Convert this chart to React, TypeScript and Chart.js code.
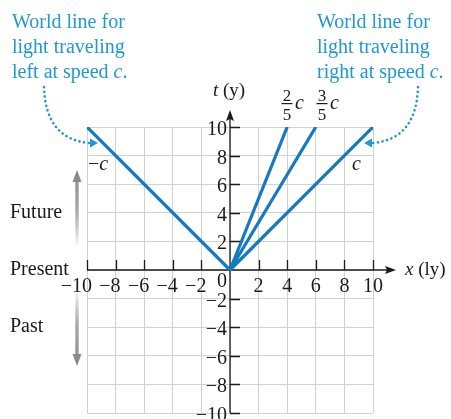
import { useEffect, useRef } from "react";
import { Chart, registerables } from "chart.js";

Chart.register(...registerables);

// Axis range and tick values (x in light-years, t in years)
const axisMin = -10;
const axisMax = 10;
const xTickValues = [-10, -8, -6, -4, -2, 2, 4, 6, 8, 10];
const tTickValues = [10, 8, 6, 4, 2, -2, -4, -6, -8, -10];

// World lines from the origin
const lightLeft = [
  { x: 0, y: 0 },
  { x: -10, y: 10 },
];
const lightRight = [
  { x: 0, y: 0 },
  { x: 10, y: 10 },
];
const twoFifthsC = [
  { x: 0, y: 0 },
  { x: 4, y: 10 },
];
const threeFifthsC = [
  { x: 0, y: 0 },
  { x: 6, y: 10 },
];

const LINE_BLUE = "#1479bf";
const NOTE_BLUE = "#1f98d4";
const SERIF = "'Liberation Serif', 'DejaVu Serif', serif";

function fmt(v: number) {
  return v < 0 ? "\u2212" + Math.abs(v) : String(v);
}

type Seg = { text: string; italic?: boolean };

function drawSegs(ctx: CanvasRenderingContext2D, segs: Seg[], x: number, y: number, size: number) {
  let cx = x;
  for (const s of segs) {
    ctx.font = `${s.italic ? "italic " : ""}${size}px ${SERIF}`;
    ctx.fillText(s.text, cx, y);
    cx += ctx.measureText(s.text).width;
  }
}

function dottedCurve(
  ctx: CanvasRenderingContext2D,
  p: number[],
  tip: [number, number],
  dir: number
) {
  ctx.save();
  ctx.strokeStyle = NOTE_BLUE;
  ctx.fillStyle = NOTE_BLUE;
  ctx.lineWidth = 2.6;
  ctx.lineCap = "round";
  ctx.setLineDash([0.1, 4.6]);
  ctx.beginPath();
  ctx.moveTo(p[0], p[1]);
  ctx.bezierCurveTo(p[2], p[3], p[4], p[5], p[6], p[7]);
  ctx.stroke();
  ctx.setLineDash([]);
  ctx.beginPath();
  ctx.moveTo(tip[0], tip[1]);
  ctx.lineTo(tip[0] - dir * 8, tip[1] - 4.5);
  ctx.lineTo(tip[0] - dir * 8, tip[1] + 4.5);
  ctx.closePath();
  ctx.fill();
  ctx.restore();
}

function grayArrow(ctx: CanvasRenderingContext2D, x: number, tail: number, tip: number) {
  const dir = tip < tail ? -1 : 1;
  const headLen = 12;
  const g = ctx.createLinearGradient(0, tail, 0, tip);
  g.addColorStop(0, "rgba(140,140,140,0)");
  g.addColorStop(0.45, "rgba(150,150,150,0.8)");
  g.addColorStop(1, "#8a8a8a");
  ctx.save();
  ctx.fillStyle = g;
  ctx.fillRect(x - 1.7, Math.min(tail, tip - dir * headLen), 3.4, Math.abs(tip - dir * headLen - tail));
  ctx.fillStyle = "#8a8a8a";
  ctx.beginPath();
  ctx.moveTo(x, tip);
  ctx.lineTo(x - 4.5, tip - dir * headLen);
  ctx.lineTo(x + 4.5, tip - dir * headLen);
  ctx.closePath();
  ctx.fill();
  ctx.restore();
}

const axesPlugin = {
  id: "spacetimeAxes",
  beforeDatasetsDraw(chart: any) {
    const ctx: CanvasRenderingContext2D = chart.ctx;
    const xs = chart.scales.x;
    const ys = chart.scales.y;
    const x0 = xs.getPixelForValue(0);
    const y0 = ys.getPixelForValue(0);
    const left = xs.getPixelForValue(axisMin);
    const right = xs.getPixelForValue(axisMax);
    const top = ys.getPixelForValue(axisMax);
    const bottom = ys.getPixelForValue(axisMin);
    ctx.save();
    ctx.strokeStyle = "#1a1a1a";
    ctx.fillStyle = "#1a1a1a";
    ctx.lineWidth = 1.3;
    // x axis with arrow
    ctx.beginPath();
    ctx.moveTo(left, y0);
    ctx.lineTo(right + 16, y0);
    ctx.stroke();
    ctx.beginPath();
    ctx.moveTo(right + 23, y0);
    ctx.lineTo(right + 12, y0 - 4);
    ctx.lineTo(right + 14, y0);
    ctx.lineTo(right + 12, y0 + 4);
    ctx.closePath();
    ctx.fill();
    // t axis with arrow
    ctx.beginPath();
    ctx.moveTo(x0, bottom);
    ctx.lineTo(x0, top - 10);
    ctx.stroke();
    ctx.beginPath();
    ctx.moveTo(x0, top - 17);
    ctx.lineTo(x0 - 4, top - 6);
    ctx.lineTo(x0, top - 8);
    ctx.lineTo(x0 + 4, top - 6);
    ctx.closePath();
    ctx.fill();
    // tick marks
    ctx.beginPath();
    for (const v of xTickValues) {
      const px = Math.round(xs.getPixelForValue(v)) + 0.5;
      ctx.moveTo(px, y0);
      ctx.lineTo(px, y0 - 10);
    }
    for (const v of tTickValues) {
      const py = Math.round(ys.getPixelForValue(v)) + 0.5;
      ctx.moveTo(x0, py);
      ctx.lineTo(x0 + 10, py);
    }
    ctx.stroke();
    ctx.restore();
  },
  afterDraw(chart: any) {
    const ctx: CanvasRenderingContext2D = chart.ctx;
    const xs = chart.scales.x;
    const ys = chart.scales.y;
    const x0 = xs.getPixelForValue(0);
    const y0 = ys.getPixelForValue(0);
    ctx.save();
    ctx.fillStyle = "#1a1a1a";
    ctx.textBaseline = "alphabetic";
    ctx.font = `20px ${SERIF}`;

    // x tick labels
    for (const v of xTickValues) {
      const px = xs.getPixelForValue(v);
      if (v < 0) {
        ctx.textAlign = "right";
        ctx.fillText(fmt(v), px + 5, y0 + 22);
      } else {
        ctx.textAlign = "center";
        ctx.fillText(fmt(v), px, y0 + 22);
      }
    }
    // t tick labels
    ctx.textAlign = "right";
    for (const v of tTickValues) {
      const py = ys.getPixelForValue(v);
      ctx.fillText(fmt(v), x0 - 3, py + 8);
    }
    ctx.fillText("0", x0 - 3, y0 + 17);

    // axis titles
    ctx.textAlign = "left";
    drawSegs(ctx, [{ text: "t", italic: true }, { text: " (y)" }], 213, 96, 19);
    drawSegs(ctx, [{ text: "x", italic: true }, { text: " (ly)" }], 405, 275, 19);

    // world line speed labels
    drawSegs(ctx, [{ text: "\u2212" }, { text: "c", italic: true }], 88, 170, 20);
    drawSegs(ctx, [{ text: "c", italic: true }], 352, 170, 20);

    const fractions: [string, string, number][] = [
      ["2", "5", 287],
      ["3", "5", 322],
    ];
    for (const [num, den, cx] of fractions) {
      ctx.font = `17px ${SERIF}`;
      ctx.textAlign = "center";
      ctx.fillText(num, cx, 100.5);
      ctx.fillText(den, cx, 120);
      ctx.fillRect(cx - 5.5, 103, 11, 1.2);
      ctx.textAlign = "left";
      drawSegs(ctx, [{ text: "c", italic: true }], cx + 8, 109, 20);
    }

    // time direction labels
    ctx.font = `20px ${SERIF}`;
    ctx.fillText("Future", 10, 218);
    ctx.fillText("Present", 10, 275);
    ctx.fillText("Past", 10, 332);
    grayArrow(ctx, 77, 248, 170);
    grayArrow(ctx, 77, 288, 366);

    // notes
    ctx.fillStyle = NOTE_BLUE;
    drawSegs(ctx, [{ text: "World line for" }], 12, 28, 20);
    drawSegs(ctx, [{ text: "light traveling" }], 12, 53, 20);
    drawSegs(ctx, [{ text: "left at speed " }, { text: "c", italic: true }, { text: "." }], 12, 78, 20);
    drawSegs(ctx, [{ text: "World line for" }], 317, 28, 20);
    drawSegs(ctx, [{ text: "light traveling" }], 317, 53, 20);
    drawSegs(ctx, [{ text: "right at speed " }, { text: "c", italic: true }, { text: "." }], 317, 78, 20);

    dottedCurve(ctx, [44, 87, 45, 118, 57, 140, 89, 143], [98, 143], 1);
    dottedCurve(ctx, [418, 87, 417, 118, 405, 140, 373, 143], [364, 143], -1);
    ctx.restore();
  },
};

function lineSet(label: string, data: { x: number; y: number }[]) {
  return {
    label,
    data,
    showLine: true,
    borderColor: LINE_BLUE,
    backgroundColor: LINE_BLUE,
    borderWidth: 3.2,
    pointRadius: 0,
    borderCapStyle: "butt" as const,
  };
}

export default function App() {
  const canvasRef = useRef<HTMLCanvasElement | null>(null);

  useEffect(() => {
    const canvas = canvasRef.current;
    if (!canvas) return;
    const chart = new Chart(canvas, {
      type: "scatter",
      data: {
        datasets: [
          lineSet("-c", lightLeft),
          lineSet("c", lightRight),
          lineSet("2/5 c", twoFifthsC),
          lineSet("3/5 c", threeFifthsC),
        ],
      },
      options: {
        responsive: false,
        animation: false,
        devicePixelRatio: 1,
        layout: { padding: { left: 87, right: 78, top: 127, bottom: 6 } },
        plugins: { legend: { display: false }, tooltip: { enabled: false } },
        events: [],
        scales: {
          x: {
            type: "linear",
            min: axisMin,
            max: axisMax,
            ticks: { stepSize: 2, display: false },
            grid: { color: "#d2d2d2", lineWidth: 1, drawTicks: false },
            border: { display: false },
            afterFit: (s: any) => {
              s.height = 0;
            },
          },
          y: {
            type: "linear",
            min: axisMin,
            max: axisMax,
            ticks: { stepSize: 2, display: false },
            grid: { color: "#d2d2d2", lineWidth: 1, drawTicks: false },
            border: { display: false },
            afterFit: (s: any) => {
              s.width = 0;
            },
          },
        },
      },
      plugins: [axesPlugin],
    });
    return () => chart.destroy();
  }, []);

  return (
    <canvas
      ref={canvasRef}
      width={451}
      height={419}
      style={{ position: "fixed", left: 0, top: 0, width: 451, height: 419, display: "block", background: "#fff" }}
    />
  );
}
